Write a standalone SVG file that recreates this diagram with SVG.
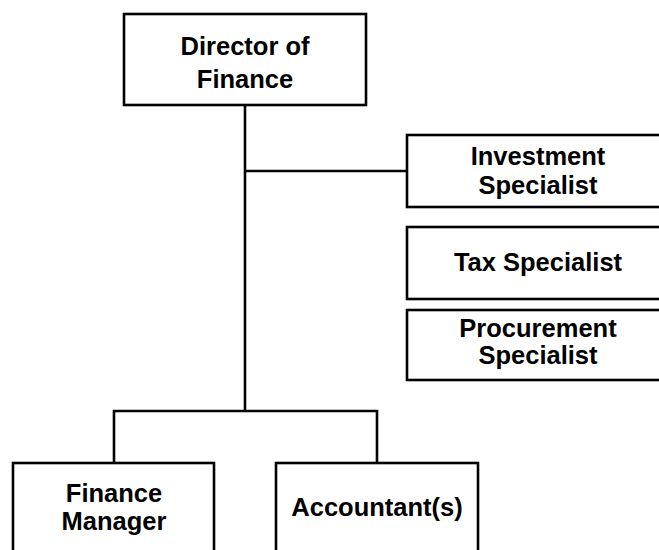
<svg xmlns="http://www.w3.org/2000/svg" width="659" height="550" viewBox="0 0 659 550">
<style>
.box{fill:#fff;stroke:#000;stroke-width:2.6}
.ln{fill:none;stroke:#000;stroke-width:2.6}
.t{font-family:"Liberation Sans",Arial,sans-serif;font-weight:bold;font-size:25.5px;fill:#000;text-anchor:middle}
</style>
<rect width="659" height="550" fill="#fff"/>
<g id="connectors">
<path class="ln" d="M245 105 V411"/>
<path class="ln" d="M245 171 H407"/>
<path class="ln" d="M114 463 V411 H377 V463"/>
</g>
<g id="director">
<rect class="box" x="124" y="14" width="242" height="91"/>
<text class="t" x="245" y="55">Director of</text>
<text class="t" x="245" y="88">Finance</text>
</g>
<g id="investment">
<rect class="box" x="407" y="135" width="262" height="72"/>
<text class="t" x="538" y="165">Investment</text>
<text class="t" x="538" y="194">Specialist</text>
</g>
<g id="tax">
<rect class="box" x="407" y="227" width="262" height="72"/>
<text class="t" x="538" y="271">Tax Specialist</text>
</g>
<g id="procurement">
<rect class="box" x="407" y="310" width="262" height="70"/>
<text class="t" x="538" y="337">Procurement</text>
<text class="t" x="538" y="364">Specialist</text>
</g>
<g id="finance-manager">
<rect class="box" x="13" y="463" width="201" height="100"/>
<text class="t" x="114" y="502">Finance</text>
<text class="t" x="114" y="530">Manager</text>
</g>
<g id="accountants">
<rect class="box" x="276" y="463" width="202" height="100"/>
<text class="t" x="377" y="516">Accountant(s)</text>
</g>
</svg>
